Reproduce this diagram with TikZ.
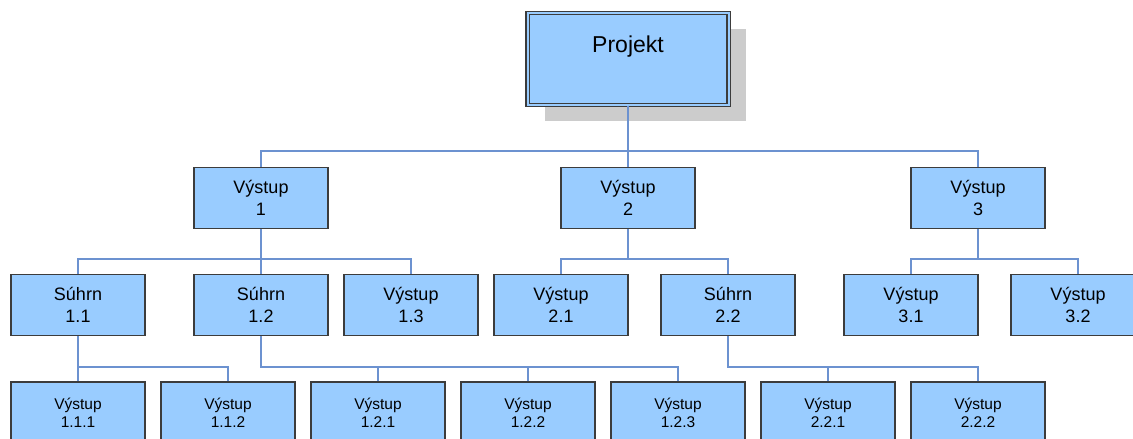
\documentclass[tikz,border=0pt]{standalone}
\usepackage{fontspec}
\setmainfont{Liberation Sans}
\usepackage{tikz}
\usetikzlibrary{%
  positioning,
  shadows
}
\definecolor{boxfill}{RGB}{153,204,255}
\definecolor{boxline}{RGB}{60,60,60}
\definecolor{linkcol}{RGB}{108,146,208}
\definecolor{shadowcol}{RGB}{204,204,204}

\begin{document}
\begin{tikzpicture}[x=1pt, y=-1pt,
    box/.style   = {draw=boxline, line width=1.3pt, fill=boxfill, align=center,
                    minimum width=134pt, minimum height=61pt, inner sep=0pt,
                    font=\fontsize{18}{22}\selectfont},
    small/.style = {box, font=\fontsize{15.5}{18}\selectfont},
    top/.style   = {box, minimum width=201pt, minimum height=92pt,
                    double=boxfill, double distance=2pt, line width=1.1pt,
                    font=\fontsize{23}{26}\selectfont, text height=17pt, text depth=30pt,
                    drop shadow={shadow xshift=17pt, shadow yshift=-16pt,
                                 fill=shadowcol, opacity=1}},
    link/.style  = {draw=linkcol, line width=1.3pt}]
    \useasboundingbox (0,0) rectangle (1133,439);

    \coordinate (bus1) at (0,151);
    \coordinate (bus2) at (0,259);
    \coordinate (bus3) at (0,367);

    \node[top] (proj) at (628,59) {Projekt};

    \node[box] (v1) at (261,198) {Výstup\\1};
    \node[box] (v2) at (628,198) {Výstup\\2};
    \node[box] (v3) at (978,198) {Výstup\\3};

    \node[box] (s11) at (78,305)   {Súhrn\\1.1};
    \node[box] (s12) at (261,305)  {Súhrn\\1.2};
    \node[box] (v13) at (411,305)  {Výstup\\1.3};
    \node[box] (v21) at (561,305)  {Výstup\\2.1};
    \node[box] (s22) at (728,305)  {Súhrn\\2.2};
    \node[box] (v31) at (911,305)  {Výstup\\3.1};
    \node[box] (v32) at (1078,305) {Výstup\\3.2};

    \node[small] (v111) at (78,412.5)  {Výstup\\1.1.1};
    \node[small] (v112) at (228,412.5) {Výstup\\1.1.2};
    \node[small] (v121) at (378,412.5) {Výstup\\1.2.1};
    \node[small] (v122) at (528,412.5) {Výstup\\1.2.2};
    \node[small] (v123) at (678,412.5) {Výstup\\1.2.3};
    \node[small] (v221) at (828,412.5) {Výstup\\2.2.1};
    \node[small] (v222) at (978,412.5) {Výstup\\2.2.2};

    % connectors
    \foreach \c in {v1,v2,v3}
      \draw[link] (proj.south) -- (proj.south |- bus1) -| (\c.north);
    \foreach \p/\c in {v1/s11, v1/s12, v1/v13, v2/v21, v2/s22, v3/v31, v3/v32}
      \draw[link] (\p.south) -- (\p.south |- bus2) -| (\c.north);
    \foreach \p/\c in {s11/v111, s11/v112, s12/v121, s12/v122, s12/v123, s22/v221, s22/v222}
      \draw[link] (\p.south) -- (\p.south |- bus3) -| (\c.north);
\end{tikzpicture}
\end{document}
